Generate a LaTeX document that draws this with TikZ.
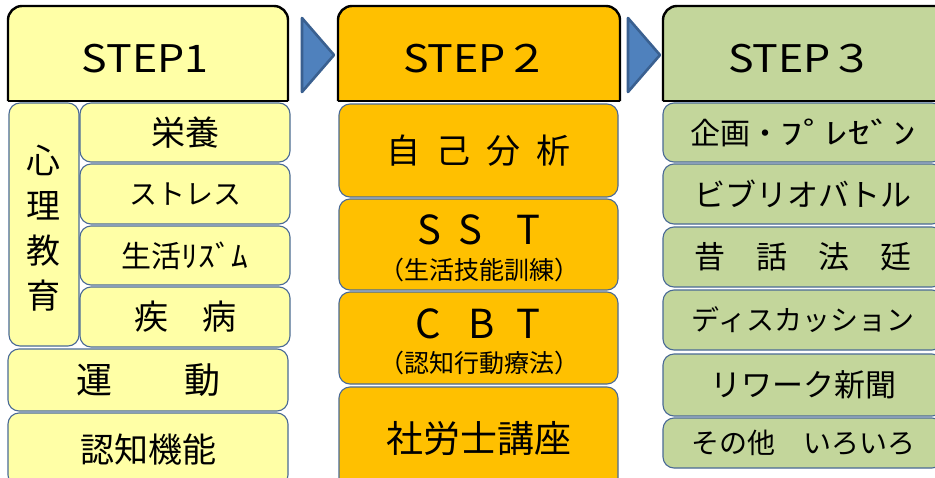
\documentclass[tikz,border=0pt]{standalone}
\usepackage{fontspec}
\setmainfont{Noto Sans CJK JP}
\definecolor{yel}{HTML}{FFFFA6}
\definecolor{org}{HTML}{FFC000}
\definecolor{grn}{HTML}{C3D69B}
\definecolor{bordc}{HTML}{4A6A96}
\definecolor{arrf}{HTML}{4F81BD}
\definecolor{arrd}{HTML}{3A6090}
\newcommand\itembox[8]{\node[#6, font=\fontsize{#7}{#7}\selectfont, minimum width={#4-#2}, minimum height={#5-#3}] (#1) at ({(#2+#4)/2},{(#3+#5)/2}) {#8};}
\newcommand\hdrshape[5]{%
  \fill[#5, rounded corners=14pt] (#1,#4) -- (#1,#3) -- (#2,#3) -- (#2,#4) -- cycle;
  \fill[#5] (#1,{#4-20}) rectangle (#2,#4);
  \draw[hdr, rounded corners=14pt] (#1,#4) -- (#1,#3) -- (#2,#3) -- (#2,#4);
  \draw[hdr] (#1,#4) -- (#2,#4);}
\begin{document}
\begin{tikzpicture}[x=1pt,y=-1pt,
  box/.style={draw=bordc, line width=1.1pt, rounded corners=11pt, inner sep=0pt, text=black},
  ybox/.style={box, fill=yel},
  obox/.style={box, fill=org},
  gbox/.style={box, fill=grn},
  hdr/.style={draw=black, line width=2.4pt, line join=round},
  hdrtext/.style={inner sep=0pt, font=\fontsize{38}{38}\selectfont},
  lbl/.style={inner sep=0pt, text=black},
  chev/.style={fill=arrf, draw=arrd, line width=2.6pt, line join=round}]
\useasboundingbox (0,0) rectangle (935,477);
\clip (0,0) rectangle (935,477);
\fill[white] (0,0) rectangle (935,477);
% headers
\hdrshape{8}{288}{6}{101}{yel}
\hdrshape{338}{620}{6}{101}{org}
\hdrshape{663}{960}{6}{101}{grn}
\node[hdrtext] (h1) at (145,59) {\scalebox{1.13}[1]{STEP1}};
\node[hdrtext] (h2) at (476,59) {\scalebox{1.13}[1]{STEP２}};
\node[hdrtext] (h3) at (801,59) {\scalebox{1.13}[1]{STEP３}};
% chevrons
\path[chev] (302,18) -- (334,55) -- (302,92) -- cycle;
\path[chev] (628,18) -- (660,55) -- (628,92) -- cycle;
% column 1
\itembox{shinri}{9}{103}{79}{346}{ybox}{34}{}
\node[lbl, align=center, font=\fontsize{34}{45}\selectfont] (shinrit) at (44,228) {心\\理\\教\\育};
\itembox{eiyo}{80}{103}{290}{162}{ybox}{34}{栄養}
\itembox{stress}{80}{164}{290}{224}{ybox}{28}{ストレス}
\itembox{rhythm}{80}{226}{290}{285}{ybox}{30}{生活\scalebox{1.12}[1]{ﾘｽﾞﾑ}}
\itembox{shippei}{80}{287}{290}{347}{ybox}{34}{疾　病}
\itembox{undo}{8}{349}{288}{411}{ybox}{36}{運　　動}
\itembox{ninchi}{8}{413}{288}{486}{ybox}{34}{認知機能}
% column 2
\itembox{jiko}{339}{104}{618}{197}{obox}{34}{自\hspace{16pt}己\hspace{16pt}分\hspace{16pt}析}
\itembox{sst}{339}{199}{618}{290}{obox}{34}{}
\node[lbl, font=\fontsize{40}{40}\selectfont] (sst1) at (479,230) {S\hspace{17pt}S\hspace{34pt}T};
\node[lbl, font=\fontsize{25}{25}\selectfont] (sst2) at (479,270) {（生活技能訓練）};
\itembox{cbt}{339}{292}{618}{384}{obox}{34}{}
\node[lbl, font=\fontsize{40}{40}\selectfont] (cbt1) at (478,324) {C\hspace{28pt}B\hspace{22pt}T};
\node[lbl, font=\fontsize{25}{25}\selectfont] (cbt2) at (479,363) {（認知行動療法）};
\itembox{sharo}{339}{387}{618}{490}{obox}{37}{社労士講座}
% column 3
\itembox{kikaku}{663}{103}{943}{162}{gbox}{30}{企画・\scalebox{1.5}[1]{ﾌﾟﾚｾﾞﾝ}}
\itembox{biblio}{663}{164}{943}{224}{gbox}{31}{ビブリオバトル}
\itembox{mukashi}{663}{227}{943}{287}{gbox}{31}{昔　話　法　廷}
\itembox{disc}{663}{290}{943}{350}{gbox}{28}{ディスカッション}
\itembox{rework}{663}{354}{943}{416}{gbox}{31}{リワーク新聞}
\itembox{sonota}{663}{418}{943}{468}{gbox}{28}{その他　いろいろ}
\end{tikzpicture}
\end{document}
